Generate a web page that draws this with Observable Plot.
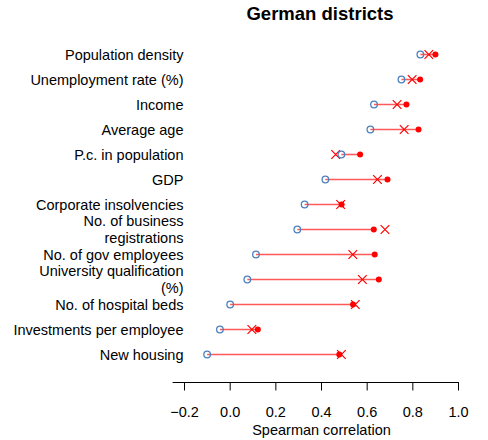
<!DOCTYPE html>
<html>
<head>
<meta charset="utf-8">
<script src="https://cdn.jsdelivr.net/npm/d3@7"></script>
<script src="https://cdn.jsdelivr.net/npm/@observablehq/plot@0.6"></script>
<style>
  body { margin: 0; background: #fff; }
</style>
</head>
<body>
<div id="chart"></div>
<script>
const title = "German districts";
const xLabel = "Spearman correlation";
const categories = [
  "Population density",
  "Unemployment rate (%)",
  "Income",
  "Average age",
  "P.c. in population",
  "GDP",
  "Corporate insolvencies",
  "No. of business\nregistrations",
  "No. of gov employees",
  "University qualification\n(%)",
  "No. of hospital beds",
  "Investments per employee",
  "New housing"
];
const circleValues = [0.833, 0.750, 0.630, 0.614, 0.487, 0.417, 0.326, 0.294, 0.113, 0.075, 0.000, -0.045, -0.101];
const crossValues  = [0.870, 0.797, 0.731, 0.762, 0.462, 0.645, 0.484, 0.678, 0.537, 0.579, 0.548, 0.095, 0.487];
const dotValues    = [0.899, 0.832, 0.772, 0.825, 0.569, 0.689, 0.488, 0.629, 0.633, 0.651, 0.538, 0.121, 0.478];
const xTicks = [-0.2, 0.0, 0.2, 0.4, 0.6, 0.8, 1.0];

const rows = categories.map((c, i) => ({
  cat: c, circle: circleValues[i], cross: crossValues[i], dot: dotValues[i]
}));

const font = "'Liberation Sans', Arial, Helvetica, sans-serif";
const marginTop = 40;

const chart = Plot.plot({
  width: 488,
  height: 440,
  marginLeft: 172.6,
  marginRight: 30,
  marginTop: marginTop,
  marginBottom: 58,
  style: { fontFamily: font, fontSize: "14.5px", background: "#fff", color: "#000" },
  x: { domain: [-0.25, 1.0], axis: null },
  y: { type: "point", domain: categories, range: [51, 356], padding: 0, axis: null },
  marks: [
    Plot.frame({ anchor: "bottom", stroke: "#000" }),
    Plot.axisX({
      ticks: xTicks,
      tickSize: 8.5,
      tickPadding: 16,
      tickFormat: d3.format(".1f"),
      fontSize: 14.5,
      label: null
    }),
    Plot.text([xLabel], { frameAnchor: "bottom", dy: 48, dx: 5.7, lineAnchor: "middle", fontSize: 14.5, fill: "#000" }),
    Plot.text([title], { frameAnchor: "top", dy: 13.5 - marginTop, dx: 4.2, lineAnchor: "middle", fontSize: 18.5, fontWeight: "bold", fill: "#000" }),
    Plot.text(rows, { y: "cat", text: "cat", frameAnchor: "left", dx: 10.4, textAnchor: "end", lineAnchor: "middle", lineHeight: 1.17, fontSize: 14.5, fill: "#000" }),
    Plot.link(rows, { x1: "circle", x2: "dot", y1: "cat", y2: "cat", stroke: "red", strokeOpacity: 0.65, strokeWidth: 1.6 }),
    Plot.dot(rows, { x: "cross", y: "cat", symbol: "times", r: 4, stroke: "red", strokeWidth: 1.2 }),
    Plot.dot(rows, { x: "dot", y: "cat", r: 3, fill: "red", stroke: "none" }),
    Plot.dot(rows, { x: "circle", y: "cat", r: 3.3, fill: "none", stroke: "#4a80c0", strokeWidth: 1.3 })
  ]
});
document.getElementById("chart").appendChild(chart);
</script>
</body>
</html>
